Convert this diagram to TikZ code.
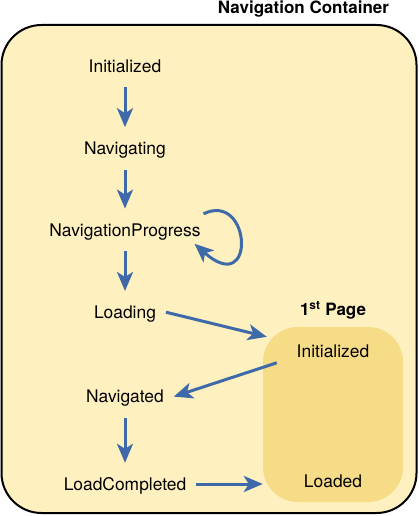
\documentclass[tikz,border=0pt]{standalone}
\usepackage{xcolor}
\usepackage{fontspec}
\setmainfont{TeX Gyre Heros}
\usepackage{tikz}
\usetikzlibrary{arrows.meta, positioning}

\definecolor{navfill}{HTML}{FEF0BF}
\definecolor{pagefill}{HTML}{F6DC87}
\definecolor{flowblue}{HTML}{3F6AAA}

\begin{document}
\begin{tikzpicture}[x=1pt, y=1pt,
		state/.style={inner sep=0pt, outer xsep=10pt, outer ysep=15pt, text height=12.4pt, text depth=0pt, font=\fontsize{17.4}{20}\selectfont},
		title/.style={font=\fontsize{17}{20}\selectfont\bfseries},
		flow/.style={draw=flowblue, line width=3pt, -{Stealth[length=19pt, width=16pt, inset=5pt]}}]

	\useasboundingbox (0,0) rectangle (419,-516);

	\node[draw=black, line width=2pt, fill=navfill, rounded corners=40pt, minimum width=415pt, minimum height=488pt] (nav) at (209,-269) {};
	\node[title, anchor=base east] at ([xshift=-25pt, yshift=10pt]nav.north east) {Navigation Container};

	\node[fill=pagefill, rounded corners=35pt, minimum width=140pt, minimum height=175pt] (page) at (333,-414.5) {};
	\node[title, anchor=base] at ([yshift=11pt]page.north) {1\textsuperscript{st} Page};

	\node[state] (s0) at (125,-66) {Initialized};
	\node[state] (s1) [below=40pt of s0] {Navigating};
	\node[state] (s2) [below=39pt of s1] {NavigationProgress};
	\node[state] (s3) [below=40pt of s2] {Loading};
	\node[state] (s4) [below=42pt of s3] {Navigated};
	\node[state] (s5) [below=45pt of s4] {LoadCompleted};

	\node[state] (p0) at ([yshift=-24pt]page.north) {Initialized};
	\node[state] (p1) at ([yshift=20.5pt]page.south) {Loaded};

	\coordinate (in0) at ([shift={(4pt,-10pt)}]page.north west);
	\coordinate (out0) at ([shift={(14pt,-36pt)}]page.north west);
	\coordinate (in1) at (s5.east -| page.west);

	\draw[flow] (s0) -- (s1);
	\draw[flow] (s1) -- (s2);
	\draw[flow] (s2) -- (s3);
	\draw[flow] (s4) -- (s5);

	\draw[flow] (s3.east) -- (in0);
	\draw[flow] (out0) -- (s4.east);
	\draw[flow] (s5.east) -- (in1);

	% self loop
	\draw[flow] ([shift={(-7pt,16pt)}]s2.east) .. controls +(48pt,23pt) and +(62pt,-55pt) .. +(-9pt,-30pt);

\end{tikzpicture}
\end{document}
